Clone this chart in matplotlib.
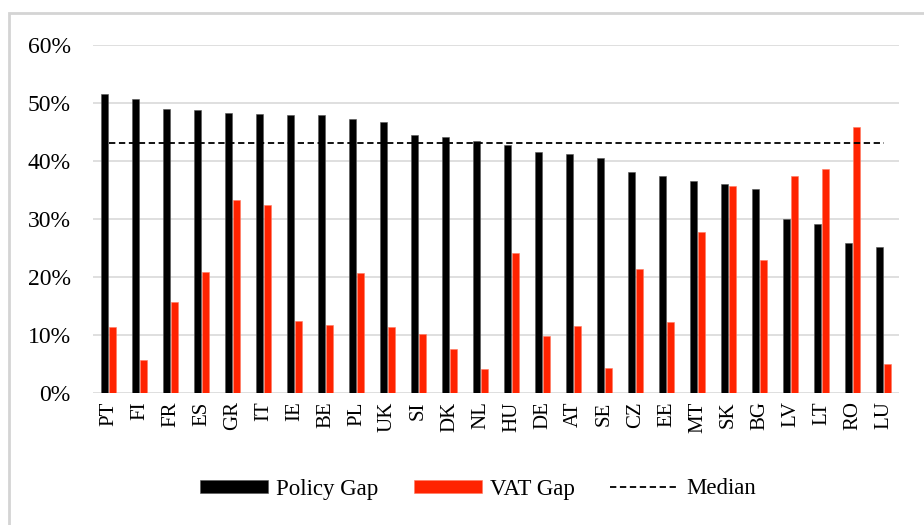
import matplotlib.pyplot as plt
import numpy as np
from matplotlib.patches import Rectangle
from matplotlib.ticker import PercentFormatter

countries = ['PT', 'FI', 'FR', 'ES', 'GR', 'IT', 'IE', 'BE', 'PL', 'UK', 'SI', 'DK', 'NL', 'HU',
             'DE', 'AT', 'SE', 'CZ', 'EE', 'MT', 'SK', 'BG', 'LV', 'LT', 'RO', 'LU']
policy_gap = [51.6, 50.7, 49.0, 48.8, 48.2, 48.1, 47.9, 47.9, 47.3, 46.8, 44.4, 44.2, 43.4, 42.8,
              41.6, 41.2, 40.6, 38.1, 37.4, 36.6, 36.0, 35.1, 30.0, 29.1, 25.9, 25.1]
vat_gap = [11.4, 5.7, 15.7, 20.9, 33.2, 32.4, 12.5, 11.7, 20.7, 11.4, 10.2, 7.6, 4.2, 24.1,
           9.9, 11.5, 4.3, 21.3, 12.3, 27.7, 35.7, 22.9, 37.4, 38.7, 45.9, 5.0]
median_gap = 43.1

plt.rcParams['font.family'] = ['Liberation Serif', 'DejaVu Serif']

fig = plt.figure(figsize=(9.24, 5.25), dpi=100)
# light grey frame, only top and left edges fall inside the picture
fig.patches.append(Rectangle((9 / 924, -0.1), 1.2, 1 - 13 / 525 + 0.1, transform=fig.transFigure,
                             fill=False, edgecolor='#d4d4d4', linewidth=2))

ax = fig.add_axes([93 / 924, 1 - 393 / 525, 806 / 924, 348 / 525])
x = np.arange(len(countries))
w = 0.22
ax.bar(x - 0.135, np.array(policy_gap) / 100, w, color='black', edgecolor='#555555', linewidth=0.4,
       label='Policy Gap', zorder=3)
ax.bar(x + 0.135, np.array(vat_gap) / 100, w, color='#ff2300', edgecolor='#ff7a60', linewidth=0.4,
       label='VAT Gap', zorder=3)
ax.plot(x, [median_gap / 100] * len(x), color='black', linestyle=(0, (3.5, 2)), linewidth=1.3,
        label='Median', zorder=4)

ax.set_xlim(-0.5, len(x) - 0.5)
ax.set_ylim(0, 0.6)
ax.set_yticks(np.arange(0, 0.61, 0.1))
ax.yaxis.set_major_formatter(PercentFormatter(1.0, decimals=0))
ax.set_xticks(x)
ax.set_xticklabels(countries, rotation=90, fontsize=15)
ax.tick_params(axis='y', labelsize=17, length=0, pad=16)
ax.tick_params(axis='x', length=0, pad=6)
ax.grid(axis='y', color='#d9d9d9', linewidth=1.2, zorder=0)
for s in ax.spines.values():
    s.set_visible(False)

handles, labels = ax.get_legend_handles_labels()
order = [1, 2, 0]
fig.legend([handles[i] for i in order], [labels[i] for i in order], loc='center',
           bbox_to_anchor=(478 / 924, 1 - 489 / 525), ncol=3, frameon=False, fontsize=16.5,
           handlelength=2.95, handleheight=0.5, handletextpad=0.35, columnspacing=1.57)

fig.savefig('out.png', dpi=100)
